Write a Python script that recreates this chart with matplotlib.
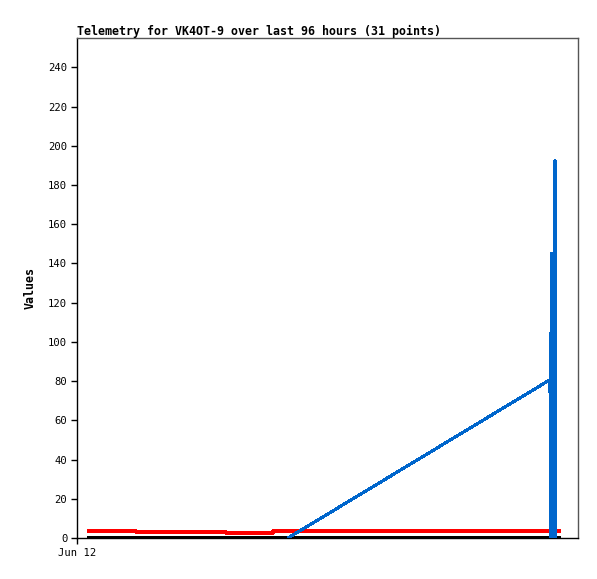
import matplotlib
matplotlib.use("Agg")
import matplotlib.pyplot as plt

matplotlib.rcParams['font.family'] = 'DejaVu Sans Mono'

# hours since Jun 12 00:00
red_t = [2.0, 11.8, 29.8, 39.2, 96.8]
red_v = [3.6, 3.1, 2.6, 3.6, 3.6]

black_t = [2.0, 96.8]
black_v = [0, 0]

blue_t = [42.2, 94.6, 94.7, 94.85, 95.0, 95.15, 95.3, 95.6, 95.75]
blue_v = [0, 80.7, 0, 145, 0, 96.5, 0, 192.5, 0]

x_ticks = [0]
x_labels = ["Jun 12"]
y_ticks = list(range(0, 241, 20))

fig = plt.figure(figsize=(5.97, 5.79), dpi=100)
ax = fig.add_axes([77 / 597, 41 / 579, 501 / 597, 500 / 579])

ax.plot(black_t, black_v, color="black", lw=1.5, solid_capstyle="butt",
        antialiased=False, zorder=2)
ax.plot(red_t, red_v, color="#ff0000", lw=1.5, drawstyle="steps-post",
        solid_capstyle="butt", antialiased=False, zorder=3)
ax.plot(blue_t, blue_v, color="#0066cc", lw=1.5, solid_capstyle="butt",
        antialiased=False, zorder=4)

ax.set_xlim(0, 100.2)
ax.set_ylim(0, 255)
ax.set_yticks(y_ticks)
ax.set_xticks(x_ticks)
ax.set_xticklabels(x_labels)
ax.tick_params(axis="both", direction="out", length=4, width=1, labelsize=7.6, pad=3)

ax.spines["left"].set_color("black")
ax.spines["bottom"].set_color("black")
ax.spines["top"].set_color("#555555")
ax.spines["right"].set_color("#555555")
for s in ax.spines.values():
    s.set_linewidth(1)

ax.set_ylabel("Values", fontsize=8.4, fontweight="bold", labelpad=8)
ax.set_title("Telemetry for VK4OT-9 over last 96 hours (31 points)",
             loc="left", fontsize=8.4, fontweight="bold", pad=2)

fig.savefig("out.png", dpi=100)
